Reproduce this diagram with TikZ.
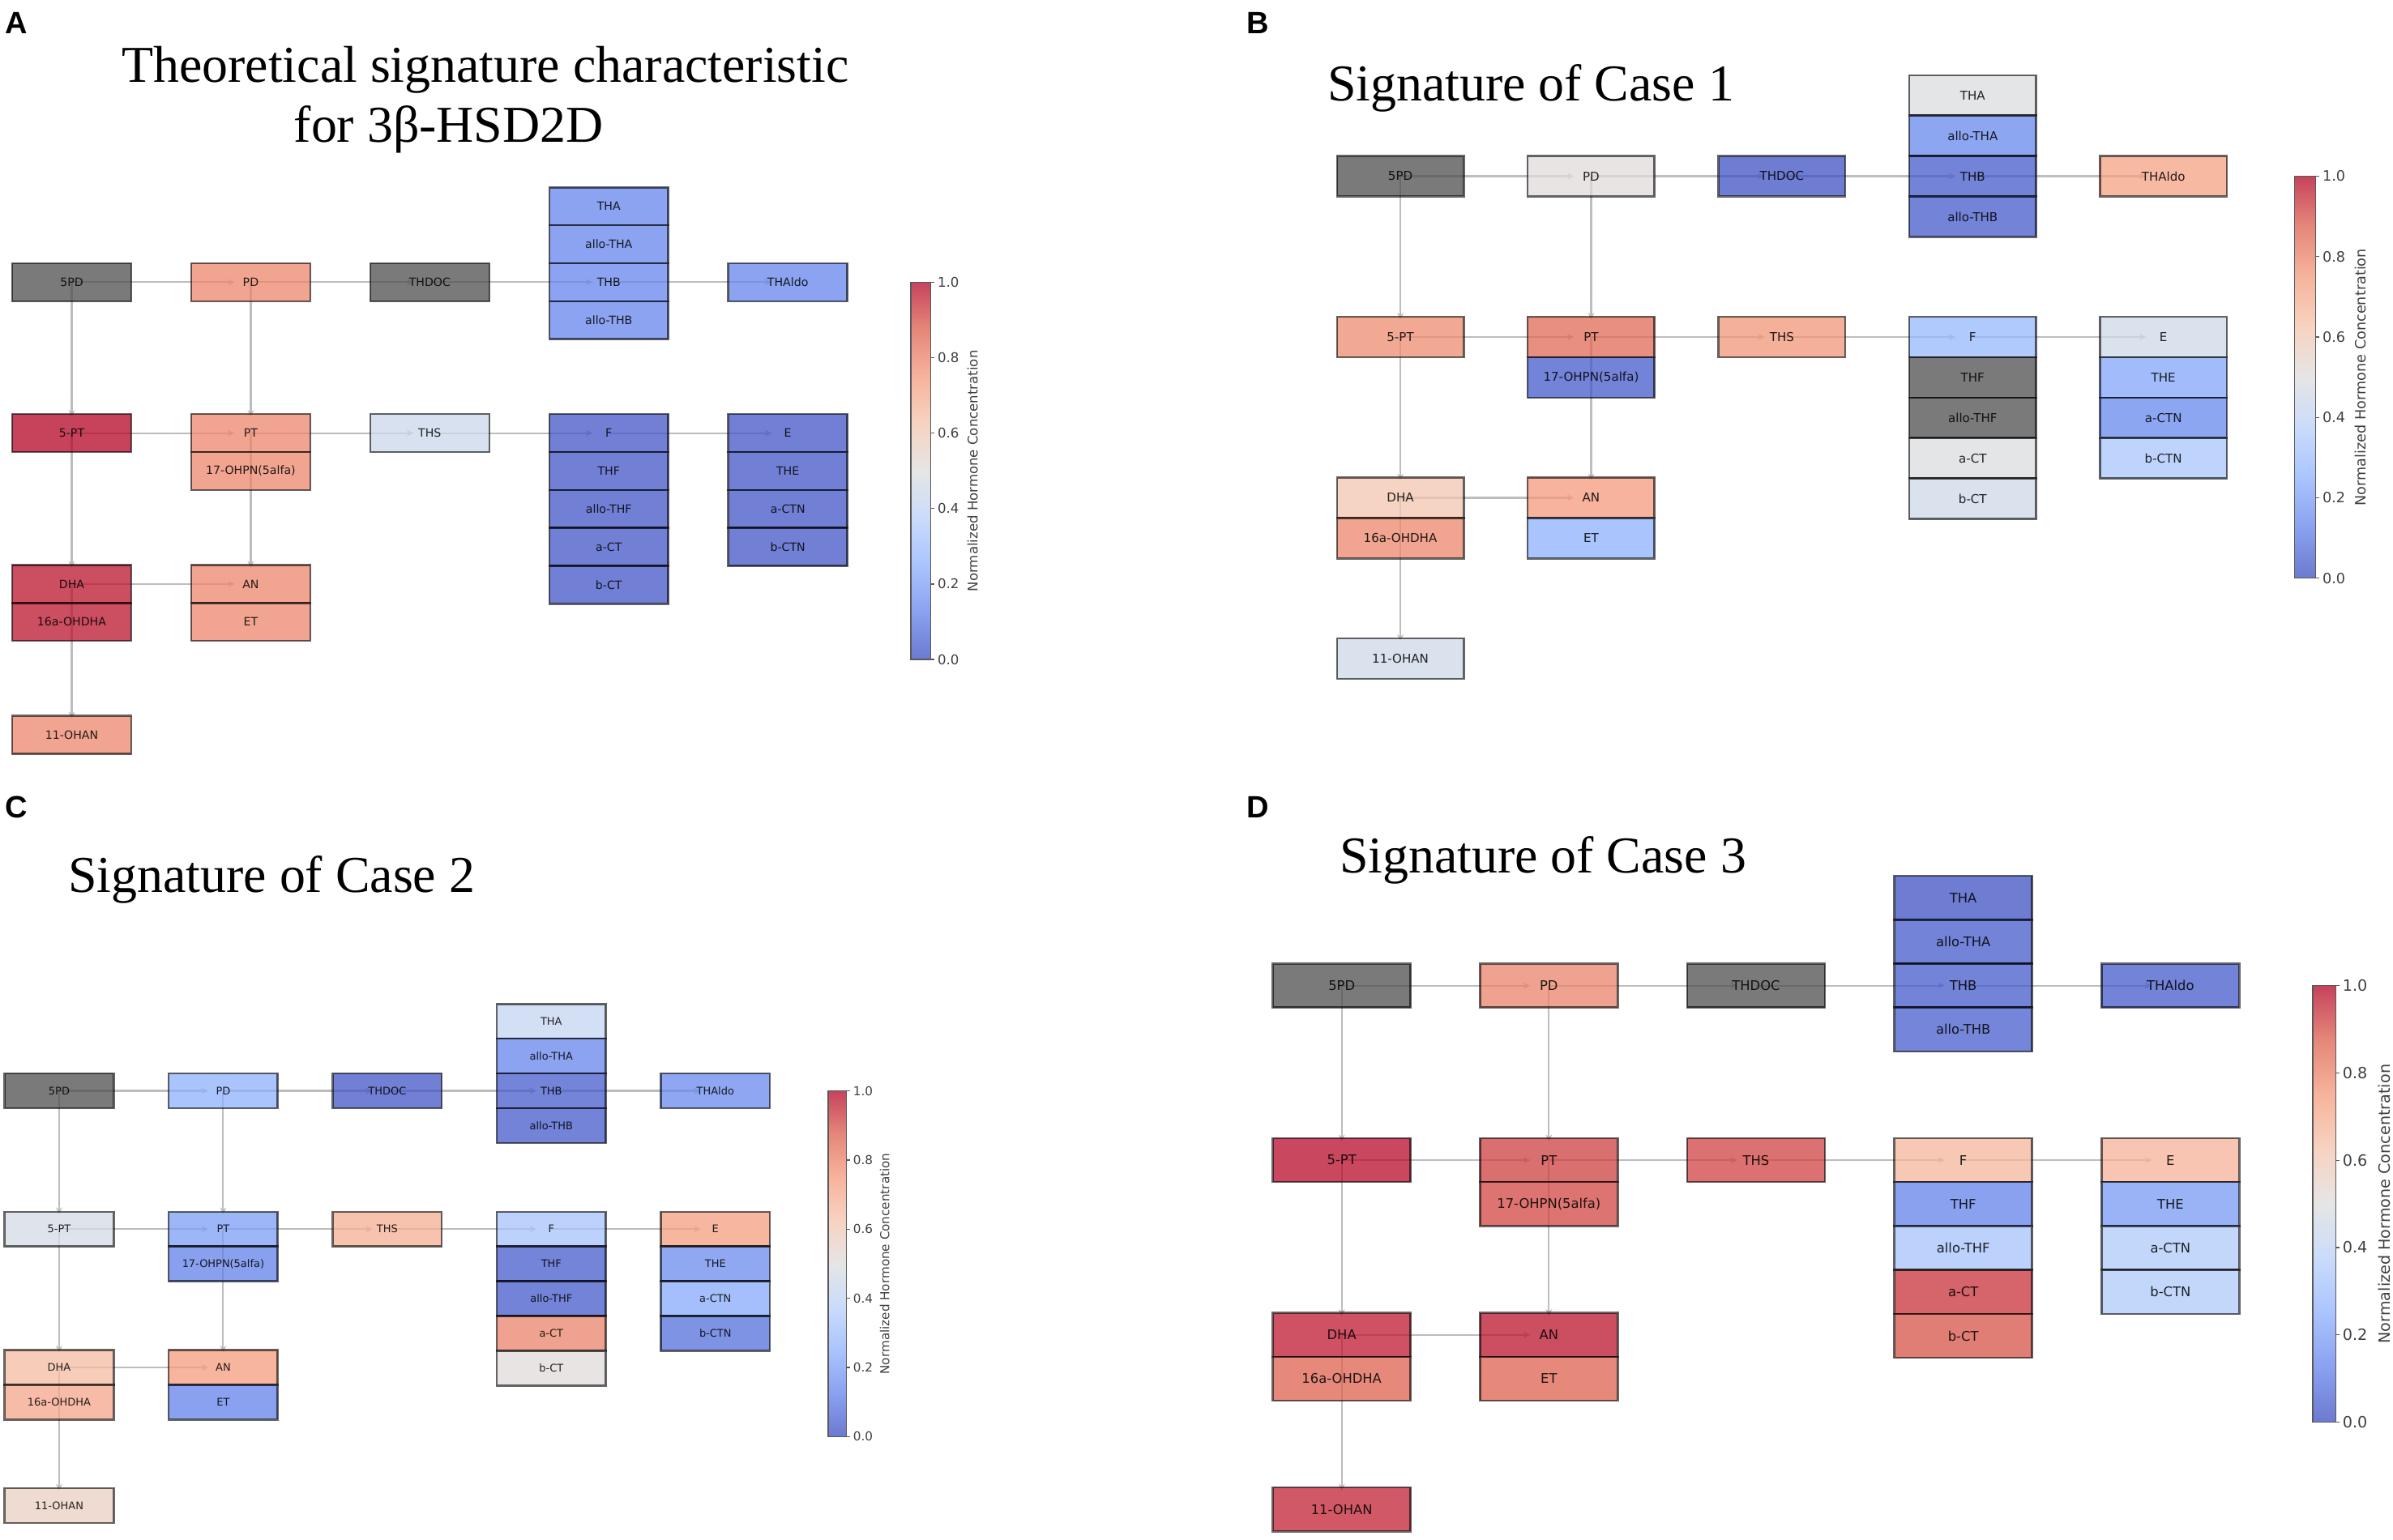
\documentclass[tikz,border=0pt]{standalone}
\usepackage{fontspec}
\setmainfont{Liberation Serif}
\newfontfamily\dvsans{DejaVu Sans}
\newfontfamily\arialbold{Liberation Sans}
\usetikzlibrary{arrows.meta,backgrounds}

% coolwarm stops
\definecolor{cw0}{RGB}{59,76,192}
\definecolor{cw1}{RGB}{98,130,234}
\definecolor{cw2}{RGB}{141,176,254}
\definecolor{cw3}{RGB}{184,208,249}
\definecolor{cw4}{RGB}{221,221,221}
\definecolor{cw5}{RGB}{244,196,173}
\definecolor{cw6}{RGB}{244,154,123}
\definecolor{cw7}{RGB}{220,96,77}
\definecolor{cw8}{RGB}{180,4,38}
\definecolor{nangray}{RGB}{77,77,77}

\tikzset{
	hormone/.code={%
		\ifdim #1pt<0pt
			\pgfkeysalso{fill=nangray}%
		\else
			\pgfmathsetmacro\cwpos{8*#1}%
			\pgfmathtruncatemacro\cwlo{min(floor(\cwpos),7)}%
			\pgfmathtruncatemacro\cwhi{\cwlo+1}%
			\pgfmathtruncatemacro\cwmix{round(100*(\cwpos-\cwlo))}%
			\colorlet{cwfill}{cw\cwhi!\cwmix!cw\cwlo}%
			\pgfkeysalso{fill=cwfill}%
		\fi},
	hormbox/.style={draw=black, draw opacity=.6, line width=.75pt, fill opacity=.75,
		text=black, text opacity=.85, inner sep=0pt},
	pathway/.style={draw=black!26, line width=.65pt, -{Stealth[length=2.6pt,width=2.4pt]}},
}

% #1 panel, #2 left of first column, #3 y of top row, #4 column pitch, #5 values
\newcommand{\signaturepanel}[5]{%
	\pgfmathsetmacro\bw{0.665*#4*0.56905}%
	\pgfmathsetmacro\bh{0.212*#4*0.56905}%
	\pgfmathsetmacro\fs{0.064*#4*0.56905}%
	\pgfmathsetmacro\tfs{0.075*#4*0.56905}%
	\pgfmathsetmacro\sh{0.09*#4*0.56905}%
	\begin{scope}[hormbox/.append style={minimum width=\bw pt, minimum height=\bh pt,
			font=\dvsans\fontsize{\fs}{\fs}\selectfont}]
		\foreach \id/\txt/\col/\row/\sub [count=\i from 0] in {
				5PD/5PD/0/0/0, PD/PD/1/0/0, THDOC/THDOC/2/0/0,
				THA/THA/3/0/-2, aTHA/allo-THA/3/0/-1, THB/THB/3/0/0, aTHB/allo-THB/3/0/1,
				THAldo/THAldo/4/0/0,
				5PT/5-PT/0/1/0, PT/PT/1/1/0, OHPN/17-OHPN(5alfa)/1/1/1, THS/THS/2/1/0,
				F/F/3/1/0, THF/THF/3/1/1, aTHF/allo-THF/3/1/2, aCT/a-CT/3/1/3, bCT/b-CT/3/1/4,
				E/E/4/1/0, THE/THE/4/1/1, aCTN/a-CTN/4/1/2, bCTN/b-CTN/4/1/3,
				DHA/DHA/0/2/0, OHDHA/16a-OHDHA/0/2/1, AN/AN/1/2/0, ET/ET/1/2/1,
				OHAN/11-OHAN/0/3/0}{
			\pgfmathsetmacro\hval{{#5}[\i]}
			\node[hormbox, hormone=\hval] (#1\id) at ({#2+(\col+0.3325)*#4}, {#3+(\row*0.843+\sub*0.212)*#4}) {\txt};
		}
	\end{scope}
	\begin{scope}[on background layer]
		\foreach \a/\b in {5PD/PD, PD/THDOC, THDOC/THB, THB/THAldo, 5PD/5PT, PD/PT,
				5PT/PT, PT/THS, THS/F, F/E, 5PT/DHA, PT/AN, DHA/AN, DHA/OHAN}
			\draw[pathway, shorten >=\sh pt] (#1\a.center) -- (#1\b.center);
	\end{scope}
	% colour bar
	\pgfmathsetmacro\cbl{#2+5.02*#4}%
	\pgfmathsetmacro\cbr{\cbl+0.11*#4}%
	\pgfmathsetmacro\cbb{#3+2.108*#4}%
	\foreach \k [evaluate=\k as \kk using int(\k+1)] in {0,...,7}
		\shade[bottom color=cw\k!75!white, top color=cw\kk!75!white]
			(\cbl,{\cbb-\k*(\cbb-#3)/8}) rectangle (\cbr,{\cbb-\kk*(\cbb-#3)/8});
	\draw[black!65, line width=.4pt] (\cbl,#3) rectangle (\cbr,\cbb);
	\foreach \t [count=\j] in {0.0,0.2,0.4,0.6,0.8,1.0}
		\draw[black!65, line width=.4pt] (\cbr,{\cbb-\t*(\cbb-#3)}) -- ++(2.5,0)
			node[right, inner sep=1pt, text=black!75, font=\dvsans\fontsize{\tfs}{\tfs}\selectfont] (#1tick\j) {\t};
	\node[rotate=90, inner sep=0pt, text=black!75, font=\dvsans\fontsize{\tfs}{\tfs}\selectfont]
		(#1cbar) at ({\cbr+0.235*#4},{#3+1.054*#4}) {Normalized Hormone Concentration};
}

\begin{document}
\begin{tikzpicture}[x=0.02cm, y=-0.02cm,
	sigtitle/.style={font=\fontsize{19.3}{22}\selectfont, inner sep=0pt, anchor=base},
	panelletter/.style={font=\arialbold\bfseries\fontsize{11.5}{12}\selectfont, inner sep=0pt}]
	\useasboundingbox (0,0) rectangle (1568,1009.4);

	\node[panelletter] (labA) at (11,15) {A};
	\node[panelletter] (labB) at (824,15) {B};
	\node[panelletter] (labC) at (11,529) {C};
	\node[panelletter] (labD) at (824,529) {D};

	\node[sigtitle] (titA1) at (318,54) {Theoretical signature characteristic};
	\node[sigtitle] (titA2) at (294,93) {for 3β-HSD2D};
	\node[sigtitle] (titB) at (1003,66) {Signature of Case 1};
	\node[sigtitle] (titC) at (178,585) {Signature of Case 2};
	\node[sigtitle] (titD) at (1011,572) {Signature of Case 3};

	\signaturepanel{A}{8}{185}{117.3}{-1,0.79,-1,0.13,0.13,0.13,0.13,0.13,1,0.79,0.79,0.44,0.02,0.02,0.02,0.02,0.02,0.02,0.02,0.02,0.02,0.98,0.98,0.79,0.79,0.79}
	\signaturepanel{B}{876}{115.5}{125}{-1,0.51,0.01,0.49,0.14,0.03,0.03,0.73,0.78,0.855,0.03,0.76,0.28,-1,-1,0.49,0.45,0.45,0.22,0.14,0.335,0.62,0.79,0.75,0.25,0.45}
	\signaturepanel{C}{3}{715}{107.5}{-1,0.25,0.02,0.415,0.13,0.035,0.03,0.145,0.47,0.2,0.12,0.69,0.32,0.035,0.03,0.8,0.51,0.74,0.15,0.23,0.08,0.65,0.715,0.745,0.125,0.57}
	\signaturepanel{D}{834}{646}{135.75}{-1,0.8,-1,0.01,0.03,0.03,0.04,0.03,0.99,0.92,0.91,0.915,0.67,0.125,0.32,0.94,0.893,0.68,0.19,0.35,0.35,0.973,0.87,0.98,0.87,0.96}
\end{tikzpicture}
\end{document}
